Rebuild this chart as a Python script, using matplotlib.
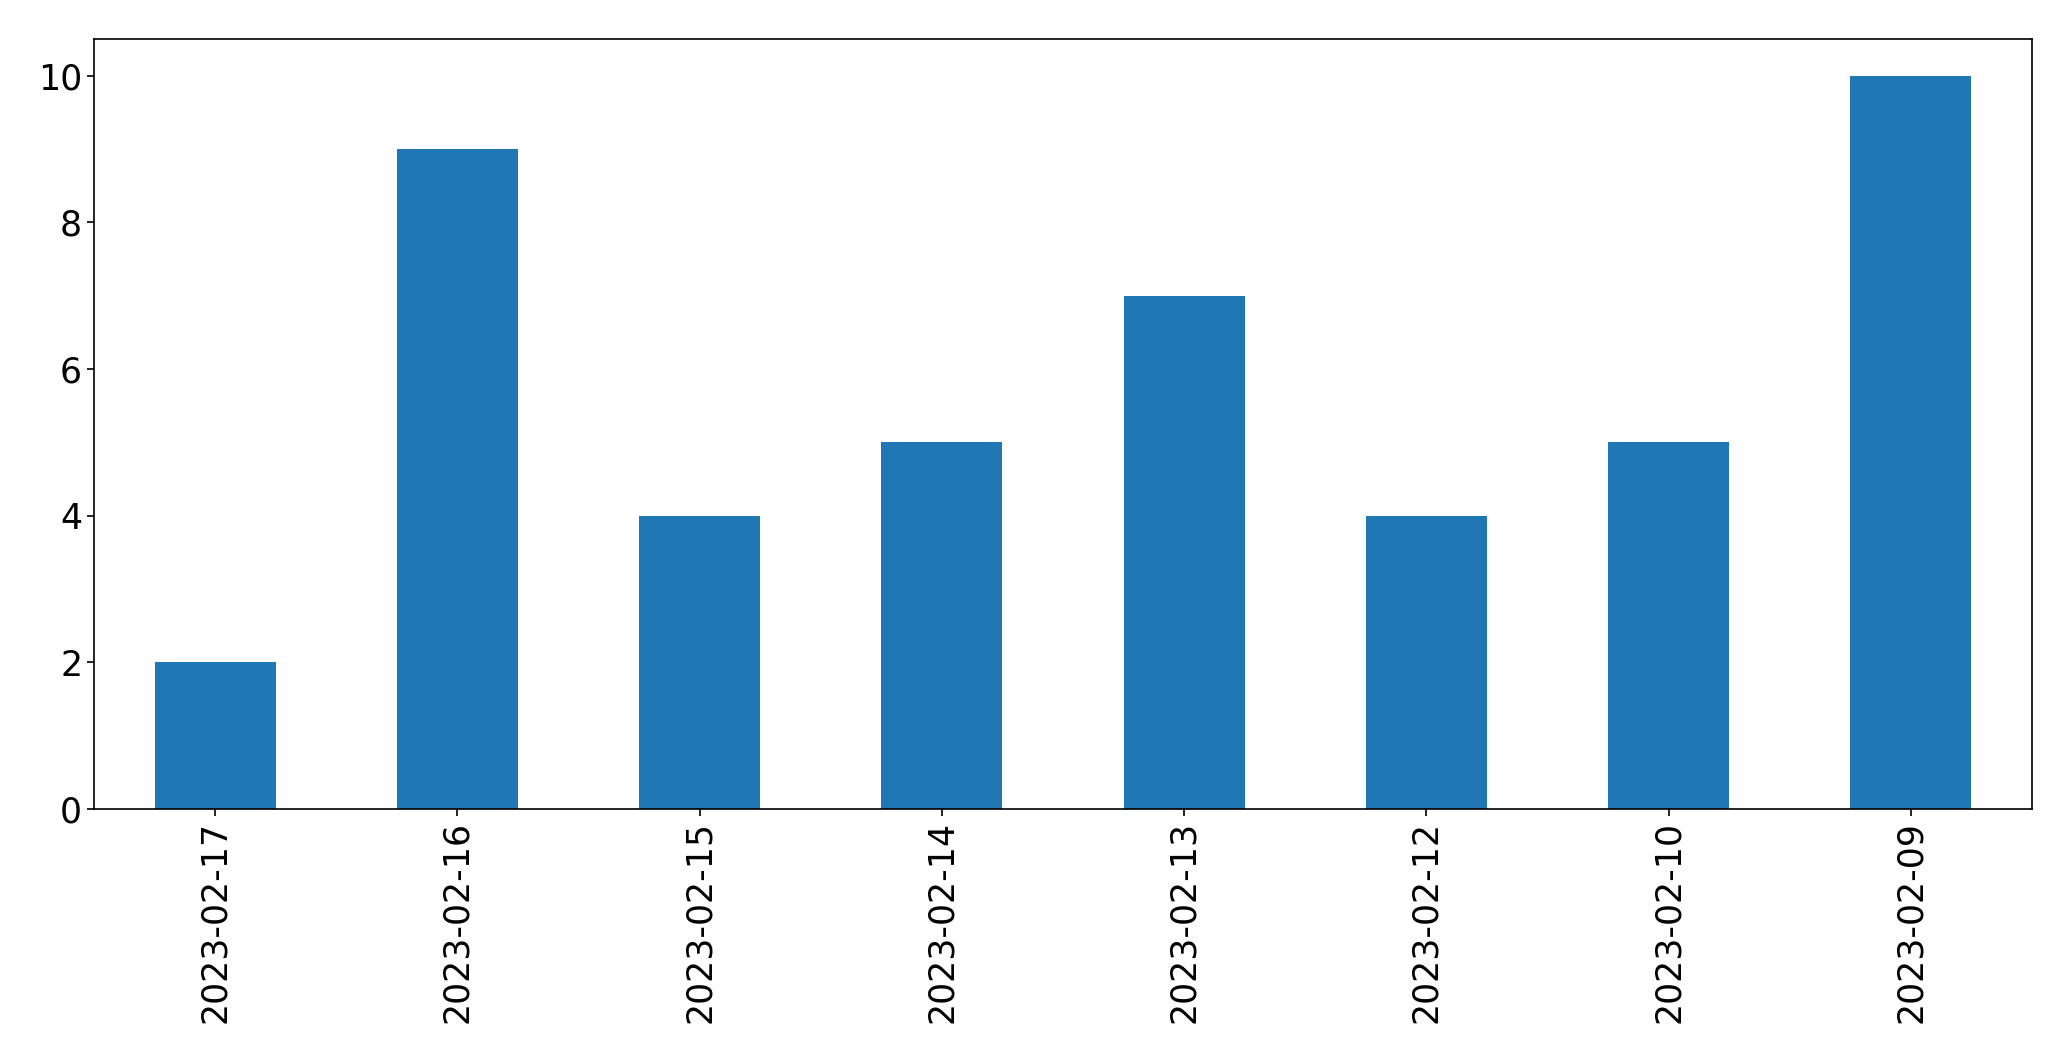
import matplotlib
matplotlib.use("Agg")
import matplotlib.pyplot as plt

dates = ["2023-02-17", "2023-02-16", "2023-02-15", "2023-02-14",
         "2023-02-13", "2023-02-12", "2023-02-10", "2023-02-09"]
counts = [2, 9, 4, 5, 7, 4, 5, 10]

fig = plt.figure(figsize=(20.71, 10.61), dpi=100)
ax = fig.add_axes([94 / 2071, 1 - 809 / 1061, (2032 - 94) / 2071, (809 - 39) / 1061])
x = list(range(len(dates)))
ax.bar(x, counts, width=0.5, color="#1f77b4")
ax.set_xlim(-0.5, len(dates) - 0.5)
ax.set_ylim(0, 10.5)
ax.set_xticks(x)
ax.set_xticklabels(dates, rotation=90)
ax.set_yticks([0, 2, 4, 6, 8, 10])
ax.tick_params(labelsize=25, length=5, width=1.2)
for s in ax.spines.values():
    s.set_linewidth(1.2)
fig.savefig("out.png", dpi=100)
